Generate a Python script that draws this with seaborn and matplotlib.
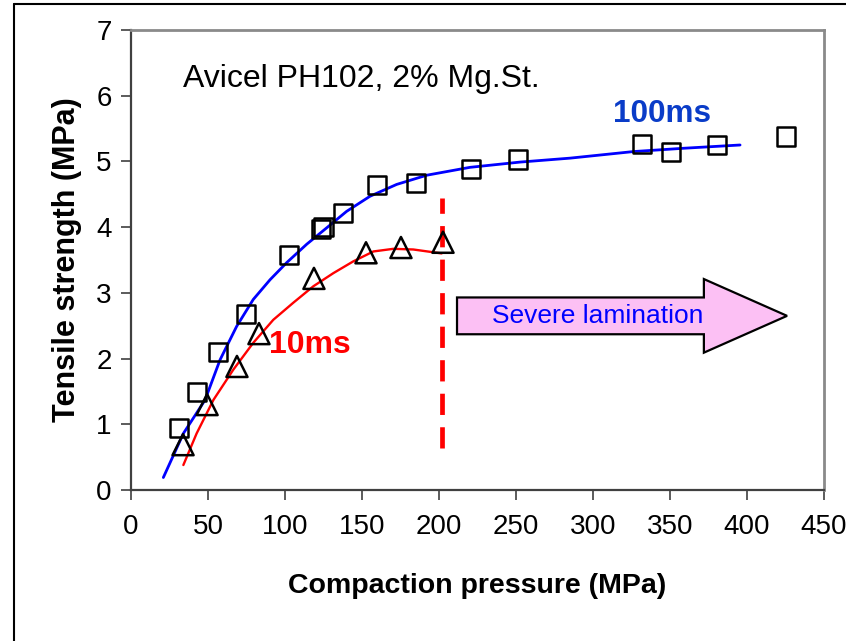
import matplotlib
matplotlib.use("Agg")
import matplotlib.pyplot as plt
import matplotlib.patches as mpatches
from matplotlib.lines import Line2D
import seaborn as sns
import pandas as pd

# ---- data ----
p100 = [31, 43, 56.5, 74.7, 102.6, 123.4, 125, 137.7, 159.7, 185, 220.8, 251.3, 331.8, 350.6, 380.5, 425.3]
ts100 = [0.95, 1.49, 2.10, 2.68, 3.58, 3.97, 4.00, 4.21, 4.64, 4.67, 4.88, 5.03, 5.26, 5.14, 5.25, 5.38]

p10 = [33.8, 49.4, 68.8, 83.1, 118.8, 152.6, 175.3, 202.6]
ts10 = [0.69, 1.30, 1.88, 2.38, 3.22, 3.61, 3.69, 3.77]

fit100_x = [21.0, 34.0, 48.1, 57.8, 68.6, 79.4, 90.3, 101.1, 114.1, 127.1, 140.0, 155.2, 172.5, 192.0, 220.1, 252.6, 285.1, 326.2, 358.6, 395.5]
fit100_y = [0.19, 0.86, 1.37, 1.98, 2.49, 2.90, 3.20, 3.46, 3.74, 3.99, 4.24, 4.47, 4.65, 4.79, 4.91, 4.99, 5.05, 5.15, 5.20, 5.25]

fit10_x = [34.0, 42.6, 53.5, 66.4, 79.4, 92.4, 105.4, 118.4, 131.4, 144.4, 157.4, 170.3, 183.3, 201.7]
fit10_y = [0.38, 0.86, 1.37, 1.83, 2.24, 2.59, 2.85, 3.10, 3.30, 3.48, 3.63, 3.67, 3.66, 3.60]

lamination_x = [202, 202]
lamination_y = [0.64, 4.45]

x_ticks = [0, 50, 100, 150, 200, 250, 300, 350, 400, 450]
y_ticks = [0, 1, 2, 3, 4, 5, 6, 7]

sns.set_style("white")
plt.rcParams['font.family'] = ['Liberation Sans', 'DejaVu Sans']
plt.rcParams['text.color'] = 'black'
plt.rcParams['axes.labelcolor'] = 'black'
plt.rcParams['xtick.color'] = 'black'
plt.rcParams['ytick.color'] = 'black'

fig = plt.figure(figsize=(8.46, 6.41), dpi=100)
ax = fig.add_axes([131/846, 1 - 490/641, (824-131)/846, (490-30)/641])

df100 = pd.DataFrame({"p": p100, "ts": ts100})
df10 = pd.DataFrame({"p": p10, "ts": ts10})
dfit100 = pd.DataFrame({"p": fit100_x, "ts": fit100_y})
dfit10 = pd.DataFrame({"p": fit10_x, "ts": fit10_y})
dlam = pd.DataFrame({"p": lamination_x, "ts": lamination_y})

sns.lineplot(data=dfit100, x="p", y="ts", sort=False, estimator=None, color="#0000FF", lw=2.0, ax=ax, zorder=2)
sns.lineplot(data=dfit10, x="p", y="ts", sort=False, estimator=None, color="#FF0000", lw=1.7, ax=ax, zorder=2)
n_before = len(ax.lines)
sns.lineplot(data=dlam, x="p", y="ts", sort=False, estimator=None, color="#FF0000", lw=3.4, ax=ax, zorder=2)
for ln in ax.lines[n_before:]:
    ln.set_dashes([4.5, 2.6])
    ln.set_dash_capstyle("butt")

sns.scatterplot(data=df100, x="p", y="ts", marker="s", s=170, facecolor="none",
                edgecolor="black", linewidth=1.8, ax=ax, zorder=3)
sns.scatterplot(data=df10, x="p", y="ts", marker="^", s=230, facecolor="none",
                edgecolor="black", linewidth=1.8, ax=ax, zorder=3)

# arrow
arrow = mpatches.FancyArrow(211.7, 2.65, 426 - 211.7, 0, width=0.56, head_width=1.12,
                            head_length=54, length_includes_head=True,
                            facecolor="#FCC0F4", edgecolor="black", lw=1.6, zorder=4)
ax.add_patch(arrow)
ax.text(303, 2.65, "Severe lamination", color="#0000FF", fontsize=19,
        ha="center", va="center", zorder=5)

ax.text(33.8, 6.25, "Avicel PH102, 2% Mg.St.", fontsize=23, ha="left", va="center", color="black")
ax.text(345, 5.72, "100ms", fontsize=22.7, fontweight="bold", color="#0A3CC8", ha="center", va="center")
ax.text(116, 2.2, "10ms", fontsize=23, fontweight="bold", color="#FF0000", ha="center", va="center")

ax.set_xlim(0, 450)
ax.set_ylim(0, 7)
ax.set_xticks(x_ticks)
ax.set_yticks(y_ticks)
ax.tick_params(axis="both", direction="out", length=7, width=1.2, color="#404040",
               labelcolor="black", labelsize=20, bottom=True, left=True)
ax.tick_params(axis="x", pad=10)
ax.tick_params(axis="y", pad=7)

ax.set_xlabel("Compaction pressure (MPa)", fontsize=20.5, fontweight="bold", labelpad=24, color="black")
ax.set_ylabel("Tensile strength (MPa)", fontsize=22, fontweight="bold", labelpad=10, color="black")

for side in ["left", "bottom"]:
    ax.spines[side].set_color("#404040")
    ax.spines[side].set_linewidth(1.6)
for side in ["top", "right"]:
    ax.spines[side].set_color("#8A8A8A")
    ax.spines[side].set_linewidth(2.0)

# outer frame lines
fig.add_artist(Line2D([14/846, 14/846], [0, 1 - 4/641], color="black", lw=1.5, transform=fig.transFigure))
fig.add_artist(Line2D([14/846, 1], [1 - 4/641, 1 - 4/641], color="black", lw=1.5, transform=fig.transFigure))

fig.savefig("out.png", dpi=100)
